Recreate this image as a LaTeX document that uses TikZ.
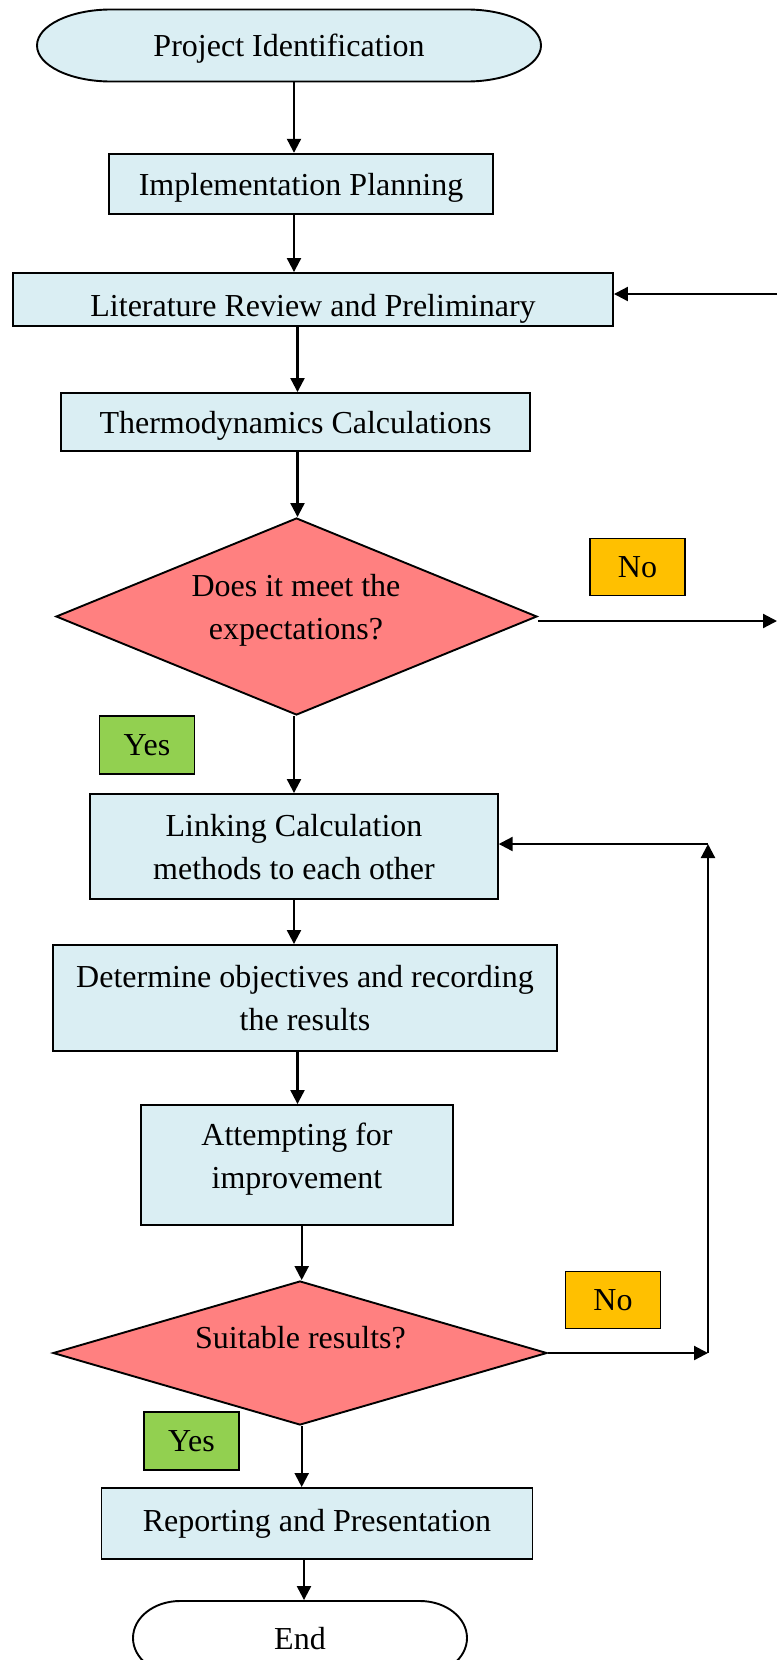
\documentclass[tikz,border=0pt]{standalone}
\usepackage{fontspec}
\setmainfont{Liberation Serif}
\usetikzlibrary{shapes.geometric,arrows.meta}
\definecolor{boxblue}{HTML}{DAEEF3}
\definecolor{decred}{HTML}{FF8080}
\definecolor{noorange}{HTML}{FFC000}
\definecolor{yesgreen}{HTML}{92D050}
\tikzset{
  base/.style={draw=black, line width=1.9pt, inner sep=0pt, font=\fontsize{32}{43}\selectfont, align=center, text depth=0pt},
  procbox/.style={base, rectangle, fill=boxblue},
  termshape/.style={draw=black, line width=1.9pt},
  decbox/.style={base, diamond, fill=decred, aspect=2.5},
  nobox/.style={base, rectangle, fill=noorange, minimum width=95pt, minimum height=57pt},
  yesbox/.style={base, rectangle, fill=yesgreen, minimum width=95pt, minimum height=58pt},
  lbl/.style={font=\fontsize{32}{43}\selectfont, align=center, inner sep=0pt, text depth=0pt},
  arr/.style={line width=2.2pt, -{Triangle[length=14pt,width=14pt]}},
}
\begin{document}
\begin{tikzpicture}[x=1pt,y=-1pt]
\useasboundingbox (0,0) rectangle (777,1660);
\clip (0,0) rectangle (777,1660);
% columns for vertical connectors
\coordinate (c294) at (294,0);
\coordinate (c297) at (297.5,0);
\coordinate (c301) at (301.7,0);
\coordinate (c304) at (304,0);
% terminator outlines (elliptical ends)
\draw[termshape, fill=boxblue] (111,9.5) -- (467,9.5)
  arc[start angle=90, end angle=-90, x radius=74pt, y radius=36pt] -- (111,81.5)
  arc[start angle=270, end angle=90, x radius=74pt, y radius=36pt] -- cycle;
\draw[termshape, fill=white] (180,1601) -- (420,1601)
  arc[start angle=90, end angle=-90, x radius=47pt, y radius=37pt] -- (180,1675)
  arc[start angle=270, end angle=90, x radius=47pt, y radius=37pt] -- cycle;
% nodes
\node[base, draw=none, minimum width=504pt, minimum height=72pt] (start) at (289,45.5) {Project Identification};
\node[procbox, minimum width=384pt, minimum height=60.5pt] (impl) at (301,184) {Implementation Planning};
\node[procbox, minimum width=600pt, minimum height=53pt] (lit) at (313,299.5) {};
\begin{scope}
  \clip (lit.south west) rectangle (lit.north east);
  \node[lbl, anchor=base] (littext) at (313,316) {Literature Review and Preliminary};
\end{scope}
\node[procbox, minimum width=469pt, minimum height=58pt] (thermo) at (295.5,422) {Thermodynamics Calculations};
\node[decbox, minimum width=481pt, minimum height=197pt] (d1) at (296.5,616.5) {};
\node[lbl] (d1t) at (296,607) {Does it meet the\\expectations?};
\node[nobox] (no1) at (637.5,567) {No};
\node[yesbox] (yes1) at (147,745) {Yes};
\node[procbox, minimum width=407.5pt, minimum height=105pt] (link) at (294,846.5) {Linking Calculation\\methods to each other};
\node[procbox, minimum width=504pt, minimum height=106pt] (det) at (305,998) {Determine objectives and recording\\the results};
\node[procbox, minimum width=312pt, minimum height=120pt] (att) at (297,1165) {};
\node[lbl] (atttext) at (297,1156) {Attempting for\\improvement};
\node[decbox, minimum width=494pt, minimum height=144pt] (d2) at (300,1353) {};
\node[lbl] (d2t) at (300.5,1337) {Suitable results?};
\node[nobox] (no2) at (613,1300) {No};
\node[yesbox] (yes2) at (191.5,1441) {Yes};
\node[procbox, text depth=7pt, minimum width=431pt, minimum height=71pt] (rep) at (317,1523.5) {Reporting and Presentation};
\node[base, draw=none, minimum width=334pt, minimum height=74pt] (end) at (300,1638) {End};
% connectors
\draw[arr] (start.south -| c294) -- (impl.north -| c294);
\draw[arr] (impl.south -| c294) -- (lit.north -| c294);
\draw[arr] (lit.south -| c297) -- (thermo.north -| c297);
\draw[arr] (thermo.south -| c297) -- (d1.north -| c297);
\draw[arr] (d1.south -| c294) -- (link.north -| c294);
\draw[arr] (link.south -| c294) -- (det.north -| c294);
\draw[arr] (det.south -| c297) -- (att.north -| c297);
\draw[arr] (att.south -| c301) -- (d2.north -| c301);
\draw[arr] (d2.south -| c301) -- (rep.north -| c301);
\draw[arr] (rep.south -| c304) -- (end.north -| c304);
% side connectors
\coordinate (litin) at (777,294);
\draw[arr] (litin) -- (litin -| lit.east);
\coordinate (d1out) at (777,621);
\draw[arr] (d1.east |- d1out) -- (d1out);
\coordinate (loopc) at (708,1353);
\coordinate (looptop) at (708,844);
\draw[arr] (d2.east |- loopc) -- (loopc);
\draw[arr] (loopc) -- (looptop);
\draw[arr] (looptop) -- (looptop -| link.east);
\end{tikzpicture}
\end{document}
